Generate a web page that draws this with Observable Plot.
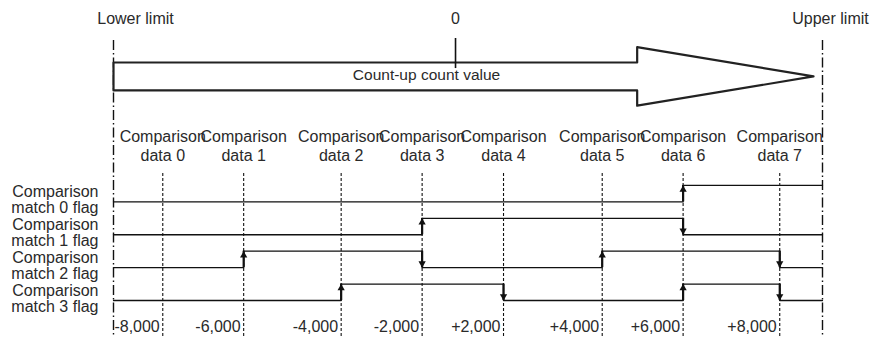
<!DOCTYPE html>
<html>
<head>
<meta charset="utf-8">
<script src="https://cdn.jsdelivr.net/npm/d3@7"></script>
<script src="https://cdn.jsdelivr.net/npm/@observablehq/plot@0.6"></script>
<style>
  html, body { margin: 0; padding: 0; background: #fff; }
  #chart svg { display: block; }
</style>
</head>
<body>
<div id="chart"></div>
<script>
// ---- Data (count axis expressed as % of the lower→upper limit range) ----
const lowerLimit = 0;
const upperLimit = 100;
const zeroPos = 48.24;
const comparePos = [6.95, 18.36, 32.11, 43.53, 55.01, 68.93, 80.34, 93.97];
const compareLabels = ["Comparison\ndata 0", "Comparison\ndata 1", "Comparison\ndata 2", "Comparison\ndata 3",
                       "Comparison\ndata 4", "Comparison\ndata 5", "Comparison\ndata 6", "Comparison\ndata 7"];
const tickLabels = ["-8,000", "-6,000", "-4,000", "-2,000", "+2,000", "+4,000", "+6,000", "+8,000"];
const flagNames = ["Comparison\nmatch 0 flag", "Comparison\nmatch 1 flag", "Comparison\nmatch 2 flag", "Comparison\nmatch 3 flag"];
// flag level after passing each comparison data point (initial level 0)
const flag0 = [0, 0, 0, 0, 0, 0, 1, 1];
const flag1 = [0, 0, 0, 1, 1, 1, 0, 0];
const flag2 = [0, 1, 1, 0, 0, 1, 1, 0];
const flag3 = [0, 0, 1, 1, 0, 0, 1, 0];
const flagInitial = 0;
const topLabels = ["Lower limit", "0", "Upper limit"];
const arrowText = "Count-up count value";

// ---- Layout in y units ----
const flags = [flag0, flag1, flag2, flag3];
const rowBase = r => 2 * (3 - r);
const yTop = 18.25, yBottom = -2.25;

const stepPts = [];
const edges = [];
flags.forEach((f, r) => {
  const b = rowBase(r);
  stepPts.push({row: r, x: lowerLimit, y: b + flagInitial});
  let prev = flagInitial;
  f.forEach((lv, i) => {
    stepPts.push({row: r, x: comparePos[i], y: b + lv});
    if (lv !== prev) edges.push({x: comparePos[i], low: b, high: b + 1, up: lv > prev});
    prev = lv;
  });
  stepPts.push({row: r, x: upperLimit, y: b + prev});
});

const arrowC = 13.63, bodyH = 0.85, headH = 1.78, neck = 73.86, tip = 98.73;
const arrowPts = [
  {x: lowerLimit, y: arrowC + bodyH}, {x: neck, y: arrowC + bodyH}, {x: neck, y: arrowC + headH},
  {x: tip, y: arrowC}, {x: neck, y: arrowC - headH}, {x: neck, y: arrowC - bodyH},
  {x: lowerLimit, y: arrowC - bodyH}, {x: lowerLimit, y: arrowC + bodyH}
];

const ink = "#111";
const txt = "#2a2a2a";

const chart = Plot.plot({
  width: 872,
  height: 337,
  marginLeft: 113,
  marginRight: 50,
  marginTop: 0,
  marginBottom: 0,
  x: {domain: [lowerLimit, upperLimit], axis: null},
  y: {domain: [yBottom, yTop], axis: null},
  style: {background: "#fff", fontFamily: "Arial, 'Liberation Sans', sans-serif", fontSize: "16px", overflow: "visible"},
  marks: [
    // limit lines (dash-dot)
    Plot.ruleX([lowerLimit, upperLimit], {y1: 15.82, y2: yBottom, stroke: ink, strokeWidth: 1.4, strokeDasharray: "10,3,1.5,3"}),
    // comparison data lines
    Plot.ruleX(comparePos, {y1: 7.73, y2: yBottom, stroke: ink, strokeWidth: 1.1, strokeDasharray: "3,2"}),
    // big arrow
    Plot.line(arrowPts, {x: "x", y: "y", stroke: "#222", strokeWidth: 2.2, fill: "#fff", curve: "linear"}),
    Plot.text([arrowText], {x: 44.15, y: 13.69, fill: txt, fontSize: 15.5}),
    Plot.ruleX([zeroPos], {y1: 15.94, y2: 14.11, stroke: ink, strokeWidth: 1.6}),
    // top labels
    Plot.text([topLabels[0]], {x: lowerLimit, y: 17.16, dx: 22, fill: txt}),
    Plot.text([topLabels[1]], {x: zeroPos, y: 17.16, fill: txt}),
    Plot.text([topLabels[2]], {x: upperLimit, y: 17.16, dx: 8, fill: txt}),
    // comparison labels
    Plot.text(compareLabels, {x: (d, i) => comparePos[i], y: 9.43, text: d => d, lineHeight: 1.2, fill: txt}),
    // flag waveforms
    Plot.line(stepPts, {x: "x", y: "y", z: "row", curve: "step-after", stroke: ink, strokeWidth: 1.3}),
    Plot.ruleX(edges, {x: "x", y1: "low", y2: "high", stroke: ink, strokeWidth: 2.2}),
    Plot.dot(edges.filter(d => d.up), {x: "x", y: "high", symbol: "triangle", r: 2.7, fill: ink, stroke: null, dy: 4.2}),
    Plot.dot(edges.filter(d => !d.up), {x: "x", y: "low", symbol: "triangle", r: 2.7, fill: ink, stroke: null, rotate: 180, dy: -4.2}),
    // flag names
    Plot.text(flagNames, {x: lowerLimit, y: (d, i) => rowBase(i) + 0.1, text: d => d, dx: -15, textAnchor: "end", lineHeight: 1.0, fill: txt}),
    // bottom tick labels
    Plot.text(tickLabels, {x: (d, i) => comparePos[i], y: -1.62, text: d => d, dx: -3, textAnchor: "end", fill: txt})
  ]
});
document.getElementById("chart").appendChild(chart);
</script>
</body>
</html>
